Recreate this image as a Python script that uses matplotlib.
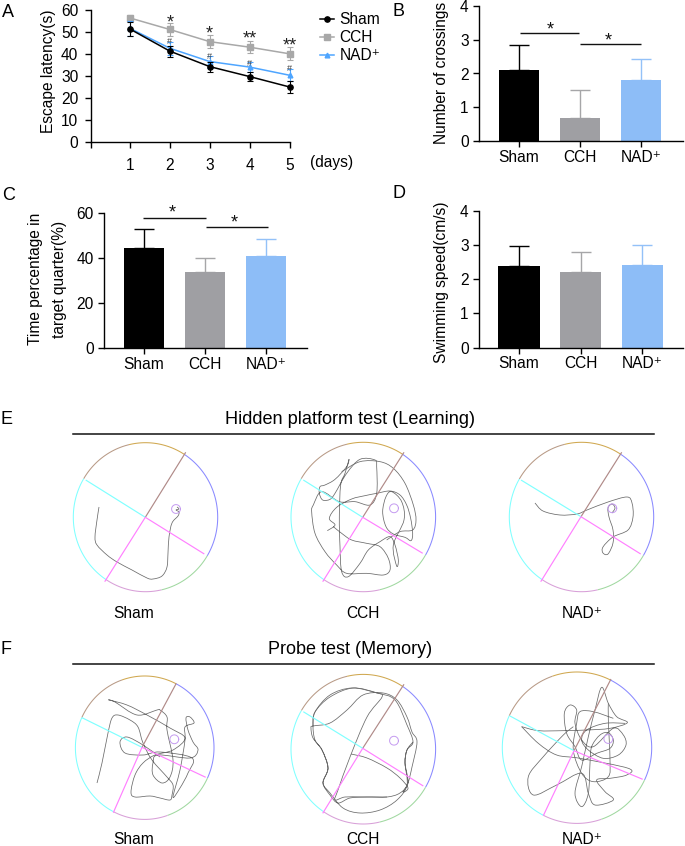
import numpy as np
import matplotlib
matplotlib.use("Agg")
import matplotlib.pyplot as plt
from matplotlib.path import Path
from matplotlib.patches import PathPatch

plt.rcParams['font.family'] = ['Liberation Sans', 'DejaVu Sans']
W, H = 685, 846
FS = 11.2

# ---------- data ----------
days = [1, 2, 3, 4, 5]
sham_latency = [51.2, 41.2, 34.2, 29.7, 25.0]
sham_latency_err = [3.0, 2.5, 2.3, 2.0, 2.7]
cch_latency = [56.2, 51.0, 45.5, 43.0, 40.0]
cch_latency_err = [1.2, 2.8, 2.8, 2.8, 3.0]
nad_latency = [51.5, 42.5, 36.5, 34.0, 30.3]
nad_latency_err = [3.5, 3.0, 2.7, 2.3, 2.8]
star_days = [2, 3, 4, 5]
star_marks = ['*', '*', '**', '**']
star_levels = [54.0, 48.8, 46.5, 43.6]
hash_days = [2, 3, 4, 5]
hash_levels = [45.5, 39.0, 35.8, 33.5]

groups = ['Sham', 'CCH', 'NAD\u207a']
crossings = [2.1, 0.7, 1.8]
crossings_err = [0.75, 0.82, 0.63]
time_pct = [44.5, 34.0, 41.2]
time_pct_err = [8.5, 6.0, 7.3]
speed = [2.38, 2.2, 2.4]
speed_err = [0.59, 0.6, 0.61]

# Swim tracks (image pixels)
track_E_sham = [(99,507),(97,520),(95,537),(97,545),(107,555),(117,562),(132,570),(147,578),(153,579),(162,576),(167,567),(168,553),(169,537),(172,523),(178,516),(179,512),(176,510),(179,509),(177,507)]
track_E_nad = [(535,503),(543,511),(560,515),(577,514),(587,510),(608,502),(627,497),(632,503),(633,517),(628,530),(613,537),(603,547),(603,553),(608,554),(613,543),(613,530),(609,517),(608,508),(612,504),(615,508),(612,513)]
track_F_sham = [(97,783),(102,763),(108,733),(112,718),(118,715),(130,720),(138,727),(143,743),(152,760),(167,777),(173,785),(172,795),(170,800),(160,798),(150,796),(135,797),(131,792),(135,775),(143,763),(155,755),(173,750),(185,738),(170,728),(147,715),(127,705),(109,700),(115,702),(137,715),(157,710),(160,710),(167,717),(167,730),(173,760),(170,777),(162,783),(153,775),(153,763),(158,755),(190,758),(198,750),(193,742),(188,730),(186,718),(190,717),(194,723),(185,727),(185,740),(180,770),(173,797),(180,788),(188,773),(192,758),(160,752),(143,755),(125,753),(120,742),(127,737),(143,745),(160,757)]
track_F_cch = [(351,754),(367,758),(387,768),(400,778),(408,788),(403,792),(408,783),(412,767),(417,742),(412,732),(407,717),(397,700),(383,693),(363,695),(347,710),(330,723),(313,726),(311,728),(313,738),(322,750),(328,768),(323,783),(330,793),(343,808),(360,813),(380,810),(397,800),(407,785),(405,763),(407,750),(413,742),(407,725),(395,700),(377,693),(352,688),(330,695),(315,712),(313,726),(315,740),(322,750),(328,768),(323,783),(330,795),(338,803),(350,798),(367,797),(387,797),(400,793),(408,783),(405,763),(407,750),(413,742)]
track_F_cch2 = [(313,726),(315,712),(330,697),(353,688),(377,693),(382,697),(367,717),(350,757),(338,790),(335,800),(345,797),(363,797),(387,797)]
track_E_cch_crop = [(142,302),(165,285),(148,265),(170,232),(215,207),(255,197),(290,190),(330,183),(360,195),(380,225),(392,265),(398,310),(393,332),(375,322),(340,312),(318,290),(308,245),(318,200),(335,185),(365,215),
    (372,270),(340,345),(350,408),(355,390),(345,345),(330,320),(300,335),(265,360),(240,400),(205,440),(185,425),(180,350),(178,260),(182,165),(195,130),(207,88),(200,110),(165,148),(135,165),(120,170),(118,190),(128,210),(150,208),(165,190),(200,130),(240,88),(285,90),(290,110),(290,190),(270,225),(225,215),(178,215),(125,185),
    (100,225),(95,245),(105,310),(135,365),(170,405),(200,430),(260,430),(310,435),(330,420),(325,385),(300,350),(260,340),(215,330),(185,310),(160,290)]
track_E_cch_crop2 = [(185,125),(240,95),(300,95),(340,115),(375,160),(400,225),(408,270),(398,300),(360,305),(320,330)]
track_F_nad_crop = [(725,200),(775,212),(850,212),(920,210),(990,205),(1042,188),(1010,170),(985,130),(965,82),(945,150),(925,230),(905,320),(885,400),(905,440),(925,400),(930,310),(935,260),(960,225),(985,218),(1000,240),(990,265),(950,280),(905,300),
    (885,260),(860,220),(853,160),(870,135),(890,150),(885,190),(905,240),(940,260),(1000,205),(1030,225),(1038,255),(1015,285),(970,295),(925,270),(905,240),(920,210),(975,190),(1035,190)]
track_F_nad_crop2 = [(985,130),(985,180),(990,300),(985,350),(940,365),(905,340),(880,270),(890,190),(900,155),(940,155),(1000,175)]
track_F_nad_crop3 = [(725,200),(775,250),(830,285),(900,295),(1045,325),(1040,345),(990,355),(950,360),(975,395),(1000,420),(945,435),(925,400),(905,340),(830,375),(760,405),(745,350),(790,290),(850,225),(880,200)]

# Water-maze sector geometry (image pixels)
maze_E_sham = dict(c=(145.5,517.2), r=(72.2,74.5), hub=(145.3,517.3), ne=(185.7,452.3), nw=(85.7,480), se=(204.3,554), sw=(104.7,581.7), goal=(176,509))
maze_E_cch  = dict(c=(363.3,517.0), r=(72.3,74.7), hub=(362.7,517.3), ne=(404,452.3), nw=(303.3,480), se=(422.7,553.3), sw=(322.7,581.7), goal=(394,508.3))
maze_E_nad  = dict(c=(581.5,517.0), r=(72.2,74.7), hub=(581,516.7), ne=(621.7,452.3), nw=(521,480), se=(640.7,554), sw=(540.7,581.7), goal=(612.3,508.3))
maze_F_sham = dict(c=(144.7,747.7), r=(69.3,71.7), hub=(142,747.3), ne=(176.3,683.3), nw=(82,717.7), se=(205.7,777.3), sw=(113.3,812.7), goal=(174.3,739.3))
maze_F_cch  = dict(c=(363.3,749.2), r=(72.3,74.8), hub=(362.7,748.3), ne=(404,684.3), nw=(303.3,711.7), se=(423.3,786), sw=(322.7,813.3), goal=(394,740.7))
maze_F_nad  = dict(c=(577.0,747.7), r=(74.7,75.7), hub=(574,750.7), ne=(611,679), nw=(510,716), se=(642.7,779.3), sw=(543.3,815.7), goal=(608.3,739))

# ---------- helpers ----------
fig = plt.figure(figsize=(W/100, H/100), dpi=100)

def panel(x0, x1, ybot, ytop):
    return fig.add_axes([x0/W, 1-ybot/H, (x1-x0)/W, (ybot-ytop)/H])

def style(ax, xpad=2, ypad=3):
    for s in ['top', 'right']:
        ax.spines[s].set_visible(False)
    for s in ['left', 'bottom']:
        ax.spines[s].set_linewidth(1.0)
        ax.spines[s].set_capstyle('projecting')
    ax.tick_params(axis='both', length=4.2, width=1.0, labelsize=FS)
    ax.tick_params(axis='x', pad=xpad)
    ax.tick_params(axis='y', pad=ypad)
    ax.patch.set_alpha(0)

def set_ylab(ax, text, xpx, ypx, **kw):
    ax.set_ylabel(text, fontsize=FS, **kw)
    bb = ax.get_position()
    ax.yaxis.set_label_coords((xpx/W-bb.x0)/bb.width, ((1-ypx/H)-bb.y0)/bb.height)

bar_colors = ['#000000', '#9f9fa3', '#8dbdf7']
err_colors = ['#000000', '#a6a6a8', '#93c1f8']

def bars(ax, centers_px, x0, x1, vals, errs):
    unit = centers_px[1]-centers_px[0]
    ax.set_xlim((x0-centers_px[0])/unit, (x1-centers_px[0])/unit)
    pos = [0, 1, 2]
    ax.bar(pos, vals, width=0.667, color=bar_colors, linewidth=0, zorder=2)
    for p, v, e, c in zip(pos, vals, errs, err_colors):
        ax.errorbar([p], [v], yerr=[[0], [e]], color=c, capsize=7.2, elinewidth=1.0, capthick=1.0, zorder=1)
    ax.set_xticks(pos, groups)
    style(ax)

# ---------- panel A ----------
axA = panel(91, 290, 142.2, 9.6)
axA.set_xlim(1-39/39.9, 5+0.5/39.9)
axA.set_ylim(0, 60)
for y, e, c, m, ms, lab, z in [
    (cch_latency, cch_latency_err, '#a8a8a8', 's', 3.8, 'CCH', 2),
    (nad_latency, nad_latency_err, '#4ea5ff', '^', 3.4, 'NAD\u207a', 3),
    (sham_latency, sham_latency_err, '#000000', 'o', 3.8, 'Sham', 4)]:
    axA.errorbar(days, y, yerr=e, color=c, marker=m, ms=ms, lw=1.1, elinewidth=0.8,
                 capsize=2.4, capthick=0.8, label=lab, zorder=z, clip_on=False)
axA.set_xticks(days)
axA.set_xticks([axA.get_xlim()[0]], minor=True)
axA.set_yticks(range(0, 61, 10))
style(axA, xpad=7, ypad=5)
axA.tick_params(axis='x', which='minor', length=4.2, width=1.0)
set_ylab(axA, 'Escape latency(s)', 56, 71)
for d, s, lv in zip(star_days, star_marks, star_levels):
    axA.text(d, lv, s, ha='center', va='center', fontsize=13, color='#222222', clip_on=False)
for d, lv in zip(hash_days, hash_levels):
    axA.text(d, lv, '#', ha='center', va='center', fontsize=6.5, color='#444444', zorder=6)
h, l = axA.get_legend_handles_labels()
order = [l.index('Sham'), l.index('CCH'), l.index('NAD\u207a')]
fig.legend([h[i].lines[0] for i in order], [l[i] for i in order], loc='upper left',
           bbox_to_anchor=(320/W, 1-12/H), frameon=False, fontsize=FS,
           handlelength=0.9, handletextpad=0.35, labelspacing=0.2, borderpad=0, borderaxespad=0)

# ---------- panel B ----------
axB = panel(478.7, 682.7, 141.3, 5.7)
axB.set_ylim(0, 4)
axB.set_yticks(range(5))
bars(axB, [519, 580, 641], 478.7, 682.7, crossings, crossings_err)
set_ylab(axB, 'Number of crossings', 449, 73)

# ---------- panel C ----------
axC = panel(103.7, 306.7, 348.3, 213.3)
axC.set_ylim(0, 60)
axC.set_yticks([0, 20, 40, 60])
bars(axC, [144, 205, 266], 103.7, 306.7, time_pct, time_pct_err)
set_ylab(axC, 'Time percentage in\ntarget quarter(%)', 67, 279, linespacing=1.75, ha='center')

# ---------- panel D ----------
axD = panel(478.7, 682.7, 347.7, 210.7)
axD.set_ylim(0, 4)
axD.set_yticks(range(5))
bars(axD, [519, 580.7, 642], 478.7, 682.7, speed, speed_err)
set_ylab(axD, 'Swimming speed(cm/s)', 449, 282.5)

# ---------- overlay in image pixels ----------
ov = fig.add_axes([0, 0, 1, 1], zorder=10)
ov.set_xlim(0, W); ov.set_ylim(H, 0); ov.axis('off'); ov.patch.set_alpha(0)

def seg(x0, x1, y):
    ov.plot([x0, x1], [y, y], color='#111111', lw=1.0, solid_capstyle='butt')

seg(520, 579.5, 33); seg(580, 641, 44)
seg(143.3, 205.7, 217.7); seg(205.7, 267.7, 226.7)
for x, y in [(550, 29.5), (608.7, 40.5), (172, 212.5), (234.7, 222.5)]:
    ov.text(x, y, '*', ha='center', va='center', fontsize=13, color='#111111')

ov.text(332, 162, '(days)', ha='center', va='center', fontsize=FS)
for t, x, y in [('A', 2, 12.5), ('B', 393, 11), ('C', 2, 195), ('D', 393, 194), ('E', 1, 420), ('F', 1, 650)]:
    ov.text(x, y, t, ha='left', va='center', fontsize=13)

ov.text(350.5, 420, 'Hidden platform test (Learning)', ha='center', va='center', fontsize=13.1)
ov.text(350.4, 649.3, 'Probe test (Memory)', ha='center', va='center', fontsize=13)
ov.plot([73, 654], [434.5, 434.5], color='#111111', lw=1.1)
ov.plot([73, 654], [664.5, 664.5], color='#111111', lw=1.1)

for y in (613, 840):
    for x, t in zip((134, 362.7, 581.7), groups):
        ov.text(x, y, t, ha='center', va='center', fontsize=FS)

def ang(m, key):
    (cx, cy), (rx, ry) = m['c'], m['r']
    px, py = m[key]
    return np.arctan2((py-cy)/ry, (px-cx)/rx)

def arc(m, a0, a1, color):
    (cx, cy), (rx, ry) = m['c'], m['r']
    t = np.linspace(a0, a1, 60)
    ov.plot(cx+rx*np.cos(t), cy+ry*np.sin(t), color=color, lw=0.75, solid_capstyle='butt')

def maze(m):
    n, e, s, w = ang(m, 'ne'), ang(m, 'se'), ang(m, 'sw'), ang(m, 'nw')
    top_mid = (w + n)/2
    bot_mid = (e + s)/2
    arc(m, w, top_mid, '#b89a86'); arc(m, top_mid, n, '#d0a850')
    arc(m, n, e, '#8a8aff')
    arc(m, e, bot_mid, '#a0d8a0'); arc(m, bot_mid, s, '#d8a0d8')
    arc(m, s, w+2*np.pi, '#80ffff')
    hx, hy = m['hub']
    for key, col in [('ne', '#b08a88'), ('nw', '#80ffff'), ('se', '#ff80ff'), ('sw', '#ff80ff')]:
        ov.plot([hx, m[key][0]], [hy, m[key][1]], color=col, lw=0.85, solid_capstyle='butt')
    g = np.linspace(0, 2*np.pi, 40)
    ov.plot(m['goal'][0]+4.4*np.cos(g), m['goal'][1]+4.4*np.sin(g), color='#c49af0', lw=0.7)

def smooth(pts, color='#6a6a6a', lw=0.55):
    p = np.array(pts, float)
    q = np.vstack([p[0], p, p[-1]])
    verts = [tuple(p[0])]; codes = [Path.MOVETO]
    for i in range(1, len(q)-2):
        c1 = q[i] + (q[i+1]-q[i-1])/6
        c2 = q[i+1] - (q[i+2]-q[i])/6
        verts += [tuple(c1), tuple(c2), tuple(q[i+1])]
        codes += [Path.CURVE4]*3
    ov.add_patch(PathPatch(Path(verts, codes), fill=False, edgecolor=color, lw=lw))

def crop(pts, ox, oy):
    return [(ox+x/3, oy+y/3) for x, y in pts]

for m in (maze_E_sham, maze_E_cch, maze_E_nad, maze_F_sham, maze_F_cch, maze_F_nad):
    maze(m)
for t in (track_E_sham, track_E_nad, track_F_sham, track_F_cch, track_F_cch2):
    smooth(t)
for t in (track_E_cch_crop, track_E_cch_crop2):
    smooth(crop(t, 280, 430))
for t in (track_F_nad_crop, track_F_nad_crop2, track_F_nad_crop3):
    smooth(crop(t, 280, 660))

fig.savefig('out.png', dpi=100)
